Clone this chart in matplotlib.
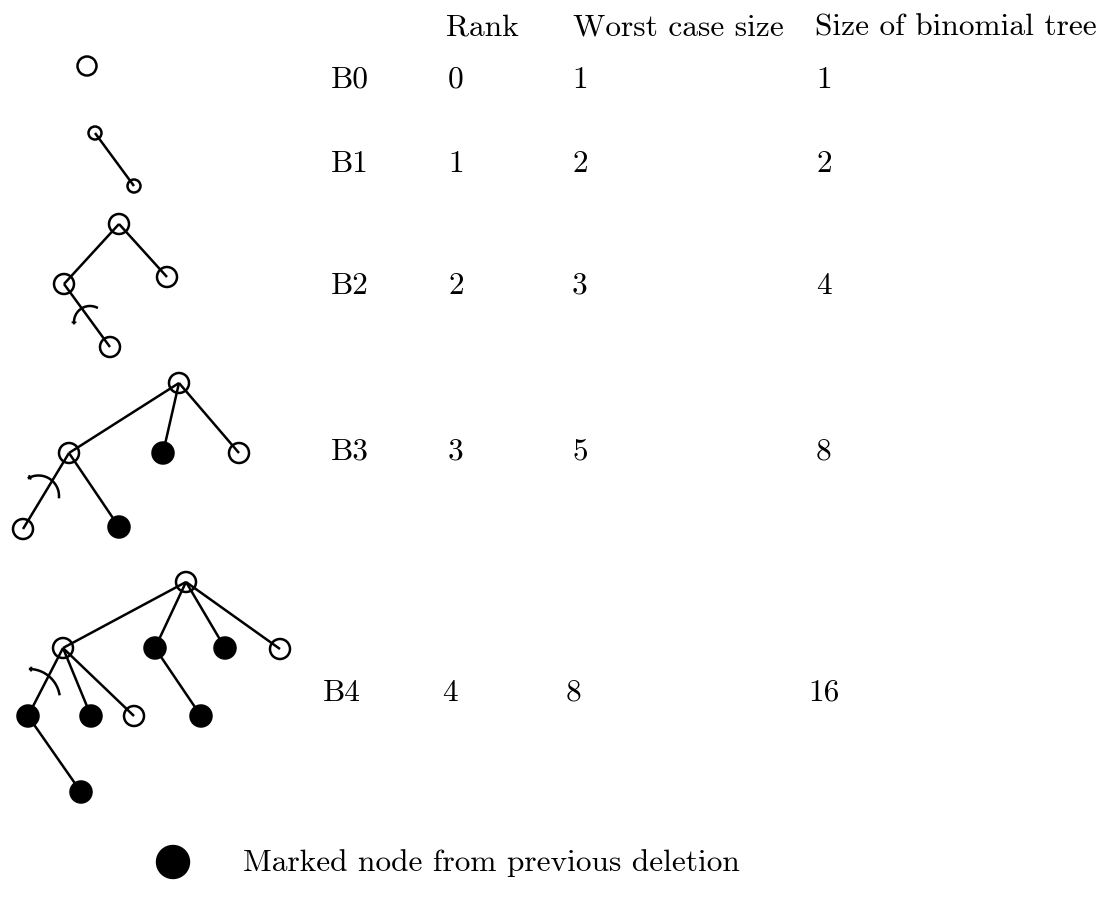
import numpy as np
import matplotlib.pyplot as plt
from matplotlib.patches import Circle

plt.rcParams['axes.formatter.use_mathtext'] = True

# table
headers = ['Rank', 'Worst case size', 'Size of binomial tree']
header_x = [446, 573, 815]
tree_names = ['B0', 'B1', 'B2', 'B3', 'B4']
ranks = ['0', '1', '2', '3', '4']
worst_sizes = ['1', '2', '3', '5', '8']
binomial_sizes = ['1', '2', '4', '8', '16']
row_y = [80, 164, 286, 452, 693]
name_x = [331, 331, 331, 331, 323]
rank_x = [448, 448, 448, 448, 442]
worst_x = [572, 572, 572, 572, 566]
binom_x = [816, 816, 816, 816, 808]

# trees: node (x, y, radius, filled), edges as node index pairs
b0_nodes = [(87, 66, 9.5, False)]
b0_edges = []
b1_nodes = [(95, 133, 6.5, False), (134, 186, 6.5, False)]
b1_edges = [(0, 1)]
b2_nodes = [(119, 224, 10, False), (64, 284, 10, False), (167, 277, 10, False),
            (110, 347, 10, False)]
b2_edges = [(0, 1), (0, 2), (1, 3)]
b3_nodes = [(179, 383, 10, False), (69, 453, 10, False), (163, 453, 10.5, True),
            (239, 453, 10, False), (23, 529, 10, False), (119, 527, 10.5, True)]
b3_edges = [(0, 1), (0, 2), (0, 3), (1, 4), (1, 5)]
b4_nodes = [(186, 582, 10, False), (63, 648, 10, False), (155, 648, 10.5, True),
            (225, 648, 10.5, True), (280, 649, 10, False), (28, 716, 10.5, True),
            (91, 716, 10.5, True), (134, 716, 10, False), (201, 716, 10.5, True),
            (81, 792, 10.5, True)]
b4_edges = [(0, 1), (0, 2), (0, 3), (0, 4), (1, 5), (1, 6), (1, 7), (2, 8), (5, 9)]
trees = [(b0_nodes, b0_edges), (b1_nodes, b1_edges), (b2_nodes, b2_edges),
         (b3_nodes, b3_edges), (b4_nodes, b4_edges)]

# cut marks: centre x, centre y, radius, start angle, end angle (deg, thick end first)
cuts = [(90, 322, 16, 184, 65), (38.5, 496, 20.5, 118, -3), (29, 700, 31, 88, 11)]

legend_label = 'Marked node from previous deletion'

fig = plt.figure(figsize=(11.11, 9.11), dpi=100)
ax = fig.add_axes([0, 0, 1, 1])
ax.set_xlim(0, 1111)
ax.set_ylim(911, 0)
ax.axis('off')

LW = 1.8
for nodes, edges in trees:
    for a, b in edges:
        ax.plot([nodes[a][0], nodes[b][0]], [nodes[a][1], nodes[b][1]],
                color='black', lw=LW, solid_capstyle='butt', zorder=1)
    for x, y, r, filled in nodes:
        ax.add_patch(Circle((x, y), r, facecolor='black' if filled else 'none',
                            edgecolor='black', lw=LW, zorder=2))

for cx, cy, r, t1, t2 in cuts:
    t = np.radians(np.linspace(t1, t2, 40))
    xs = cx + r * np.cos(t)
    ys = cy - r * np.sin(t)
    ax.plot(xs, ys, color='black', lw=LW, zorder=3)
    ax.plot(xs[:3], ys[:3], color='black', lw=3.4, solid_capstyle='butt', zorder=3)

FS = 22.6
font = dict(family='cmr10', fontsize=FS, va='center', ha='left')
for h, x in zip(headers, header_x):
    ax.text(x, 28, h, **font)
for i in range(len(tree_names)):
    ax.text(name_x[i], row_y[i], tree_names[i], **font)
    ax.text(rank_x[i], row_y[i], ranks[i], **font)
    ax.text(worst_x[i], row_y[i], worst_sizes[i], **font)
    ax.text(binom_x[i], row_y[i], binomial_sizes[i], **font)

ax.add_patch(Circle((173, 862), 16.5, facecolor='black', edgecolor='black'))
ax.text(243, 863, legend_label, **font)

fig.savefig('out.png', dpi=100)
